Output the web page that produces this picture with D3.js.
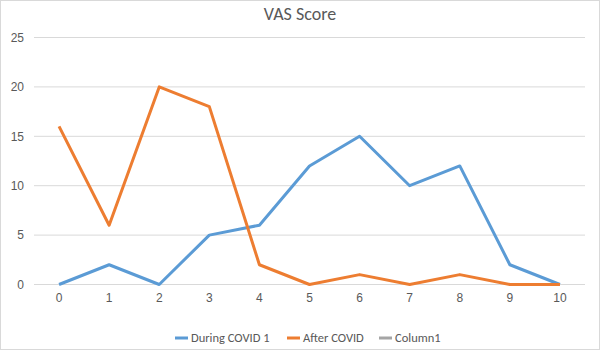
<!DOCTYPE html>
<html>
<head>
<meta charset="utf-8">
<script src="https://cdn.jsdelivr.net/npm/d3@7"></script>
<style>
  body { margin: 0; background: #fff; }
  svg { font-family: Calibri, "Liberation Sans", "Open Sans", sans-serif; }
</style>
</head>
<body>
<div id="chart"></div>
<script>
var categories = ["0", "1", "2", "3", "4", "5", "6", "7", "8", "9", "10"];
var during = [0, 2, 0, 5, 6, 12, 15, 10, 12, 2, 0];
var after = [16, 6, 20, 18, 2, 0, 1, 0, 1, 0, 0];
var yTicks = [0, 5, 10, 15, 20, 25];
var seriesNames = ["During COVID 1", "After COVID", "Column1"];
var seriesColors = ["#5b9bd5", "#ed7d31", "#a5a5a5"];

var width = 600, height = 350;
var svg = d3.select("#chart").append("svg")
  .attr("width", width).attr("height", height);

svg.append("rect")
  .attr("x", 0.5).attr("y", 0.5)
  .attr("width", width - 1).attr("height", height - 1)
  .attr("fill", "#fff").attr("stroke", "#d9d9d9");

svg.append("text")
  .attr("x", 300).attr("y", 20)
  .attr("text-anchor", "middle")
  .attr("font-size", 18)
  .attr("fill", "#595959")
  .text("VAS Score");

var x = d3.scaleBand().domain(categories).range([34, 585]);
var y = d3.scaleLinear().domain([0, 25]).range([284.5, 37.5]);

// gridlines
svg.append("g").selectAll("line")
  .data(yTicks).enter().append("line")
  .attr("x1", 34).attr("x2", 585)
  .attr("y1", function(d){ return y(d); })
  .attr("y2", function(d){ return y(d); })
  .attr("stroke", "#d9d9d9").attr("stroke-width", 1);

var yAxis = d3.axisLeft(y).tickValues(yTicks).tickSize(0).tickPadding(10);
var gy = svg.append("g").attr("transform", "translate(34,0)").call(yAxis);
gy.select(".domain").remove();
gy.selectAll("text").attr("fill", "#595959").attr("font-size", 12);

var xAxis = d3.axisBottom(x).tickSize(0).tickPadding(9);
var gx = svg.append("g").attr("transform", "translate(0,284.5)").call(xAxis);
gx.select(".domain").remove();
gx.selectAll("text").attr("fill", "#595959").attr("font-size", 12);

var line = d3.line()
  .x(function(d, i){ return x(categories[i]) + x.bandwidth() / 2; })
  .y(function(d){ return y(d); });

[during, after].forEach(function(s, k){
  svg.append("path")
    .datum(s)
    .attr("d", line)
    .attr("fill", "none")
    .attr("stroke", seriesColors[k])
    .attr("stroke-width", 3)
    .attr("stroke-linejoin", "round");
});

// legend
var legendX = [175, 287, 379];
var lg = svg.append("g");
seriesNames.forEach(function(n, i){
  lg.append("line")
    .attr("x1", legendX[i]).attr("x2", legendX[i] + 13)
    .attr("y1", 338).attr("y2", 338)
    .attr("stroke", seriesColors[i]).attr("stroke-width", 3);
  lg.append("text")
    .attr("x", legendX[i] + 16).attr("y", 342)
    .attr("font-size", 12.5).attr("fill", "#595959")
    .text(n);
});
</script>
</body>
</html>
